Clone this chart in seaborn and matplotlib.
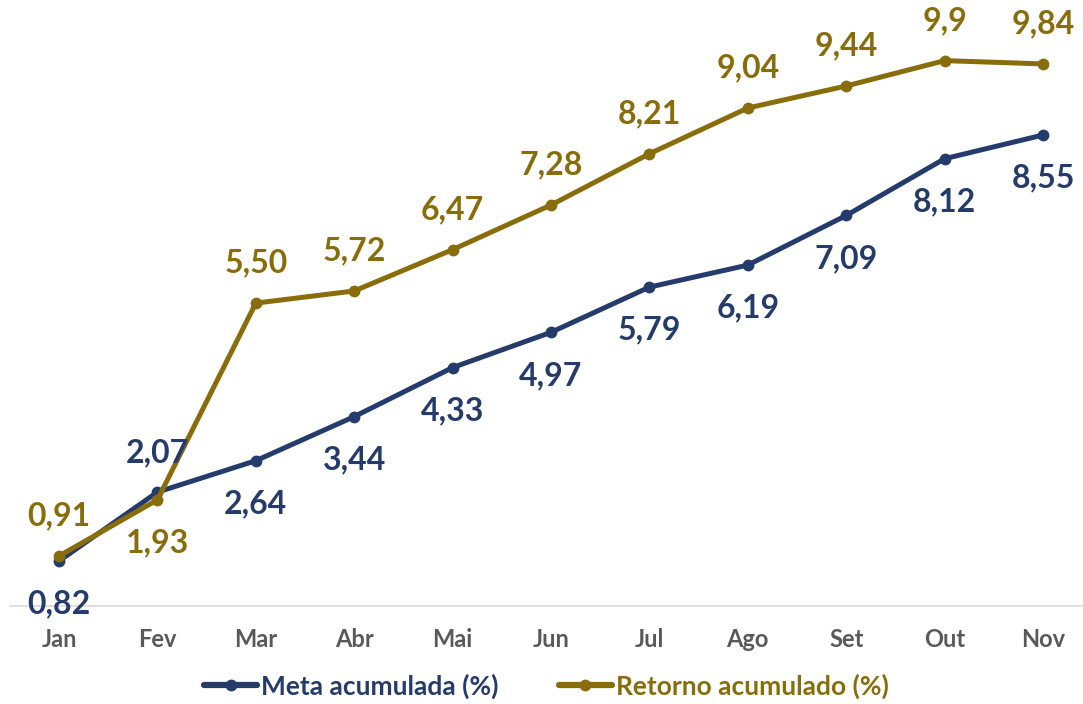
import pandas as pd
import numpy as np
import matplotlib
matplotlib.use("Agg")
import matplotlib.pyplot as plt
import seaborn as sns

meses = ["Jan", "Fev", "Mar", "Abr", "Mai", "Jun", "Jul", "Ago", "Set", "Out", "Nov"]
meta = [0.82, 2.07, 2.64, 3.44, 4.33, 4.97, 5.79, 6.19, 7.09, 8.12, 8.55]
retorno = [0.91, 1.93, 5.50, 5.72, 6.47, 7.28, 8.21, 9.04, 9.44, 9.90, 9.84]
rotulos_meta = ["0,82", "2,07", "2,64", "3,44", "4,33", "4,97", "5,79", "6,19", "7,09", "8,12", "8,55"]
rotulos_ret = ["0,91", "1,93", "5,50", "5,72", "6,47", "7,28", "8,21", "9,04", "9,44", "9,9", "9,84"]

serie_meta = "Meta acumulada (%)"
serie_ret = "Retorno acumulado (%)"
azul = "#243B6B"
dourado = "#8A6D0B"

df = pd.DataFrame({
    "pos": list(range(len(meses))) * 2,
    "valor": meta + retorno,
    "serie": [serie_meta] * len(meses) + [serie_ret] * len(meses),
})

sns.set_theme(style="white")
plt.rcParams["font.family"] = ["Lato", "DejaVu Sans"]

fig = plt.figure(figsize=(10.83, 7.04), dpi=100)
ax = fig.add_axes([9.8 / 1083, 97.8 / 704, 1 - 9.8 / 1083, 606.2 / 704])

sns.lineplot(data=df, x="pos", y="valor", hue="serie", palette={serie_meta: azul, serie_ret: dourado},
             marker="o", markersize=8.5, markeredgewidth=0, linewidth=3.6, sort=False, ax=ax)

# rótulos de dados (acima / abaixo como no original)
for i, (v, s) in enumerate(zip(meta, rotulos_meta)):
    dy = 28 if i == 1 else -31
    ax.annotate(s, (i, v), xytext=(0, dy), textcoords="offset points", ha="center", va="center",
                fontsize=23, color=azul, fontweight="bold")
for i, (v, s) in enumerate(zip(retorno, rotulos_ret)):
    dy = -31 if i == 1 else 29
    ax.annotate(s, (i, v), xytext=(0, dy), textcoords="offset points", ha="center", va="center",
                fontsize=23, color=dourado, fontweight="bold")

ax.set_xlim(-0.5, (1083 - 59) / 98.4)
ax.set_ylim(0, 11)
ax.set_xticks(range(len(meses)))
ax.set_xticklabels(meses, fontsize=17, fontweight="bold", color="#595959")
ax.set_yticks([])
ax.tick_params(axis="x", length=0, pad=16)
ax.set_xlabel("")
ax.set_ylabel("")
for lado in ["top", "right", "left"]:
    ax.spines[lado].set_visible(False)
ax.spines["bottom"].set_color("#D9D9D9")
ax.spines["bottom"].set_linewidth(1.2)

leg = ax.legend(loc="center", bbox_to_anchor=(0.5, (704 - 686 - 97.8) / 606.2), ncol=2, frameon=False,
                fontsize=19, handlelength=2.0, columnspacing=2.3, handletextpad=0.15)
for txt, cor in zip(leg.get_texts(), [azul, dourado]):
    txt.set_color(cor)
    txt.set_fontweight("bold")
for h in leg.get_lines():
    h.set_linewidth(4.5)

fig.savefig("out.png", dpi=100)
